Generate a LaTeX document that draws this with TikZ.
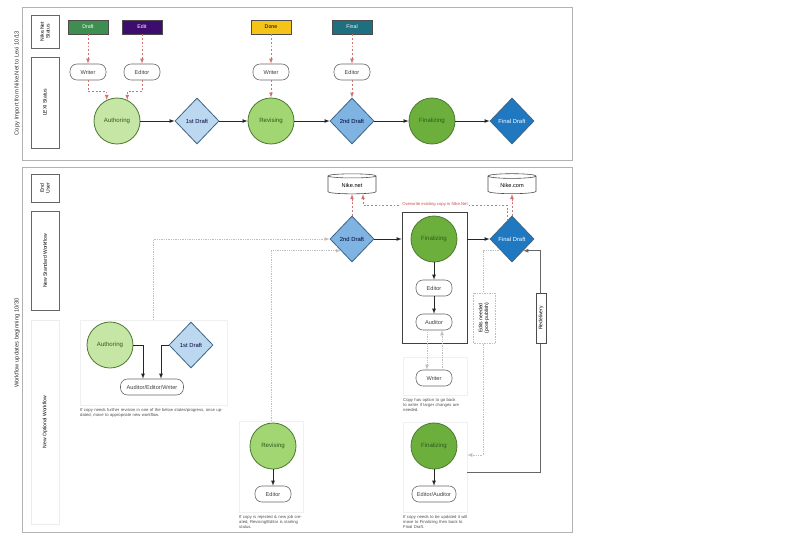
\documentclass[tikz,border=0pt]{standalone}
\usepackage{fontspec}
\setmainfont{Liberation Sans}
\usepackage{tikz}
\usetikzlibrary{arrows,shapes.geometric,calc}

\definecolor{draftgreen}{HTML}{3E8E4F}
\definecolor{editpurple}{HTML}{3D0C6E}
\definecolor{doneyellow}{HTML}{F4C518}
\definecolor{finalteal}{HTML}{1E6F7F}
\definecolor{lightgreen}{HTML}{C6E6A6}
\definecolor{midgreen}{HTML}{A2D672}
\definecolor{darkgreen}{HTML}{6CAF3C}
\definecolor{greenline}{HTML}{4E7A34}
\definecolor{greentext}{HTML}{2D5A1A}
\definecolor{lightblue}{HTML}{BCD8F0}
\definecolor{midblue}{HTML}{7EB3E2}
\definecolor{darkblue}{HTML}{1F78C0}
\definecolor{blueline}{HTML}{3F6585}
\definecolor{syncred}{HTML}{C0504D}

\begin{document}
\begin{tikzpicture}[x=0.03cm, y=-0.03cm,
	lane/.style={draw=gray!60, line width=0.8pt},
	lanelabel/.style={draw=gray!80!black, line width=0.5pt, rotate=90, align=center,
		minimum height=0.84cm, inner sep=1pt, font=\fontsize{4.3}{5}\selectfont},
	title/.style={rotate=90, font=\fontsize{5}{6}\selectfont, text=black!80},
	status/.style={draw=black!70, line width=0.5pt, minimum width=1.2cm, minimum height=0.42cm,
		inner sep=0pt, font=\fontsize{4.5}{5}\selectfont},
	pill/.style={draw=black!60, fill=white, line width=0.5pt, rounded corners=6pt, minimum width=1.08cm,
		minimum height=0.48cm, inner sep=1pt, font=\fontsize{4.8}{5}\selectfont, text=black!75},
	stage/.style={circle, draw=greenline, line width=0.7pt, minimum size=1.38cm, inner sep=0pt,
		text=greentext, font=\fontsize{5.2}{6}\selectfont},
	gate/.style={diamond, draw=blueline, line width=0.7pt, minimum width=1.32cm, minimum height=1.38cm,
		inner sep=0pt, text=black!80!blue, font=\fontsize{5}{6}\selectfont},
	store/.style={cylinder, shape border rotate=90, aspect=0.2, draw=black!70, fill=white, line width=0.5pt,
		minimum width=1.44cm, minimum height=0.6cm, inner sep=0pt, font=\fontsize{4.8}{5}\selectfont},
	faint/.style={draw=gray!12, line width=0.4pt},
	caption/.style={anchor=north west, align=left, inner sep=0pt, font=\fontsize{3.6}{4.4}\selectfont, text=black!70},
	flow/.style={-latex, draw=black!85, line width=0.5pt},
	sync/.style={-latex, draw=syncred!80, line width=0.5pt, dash pattern=on 1.6pt off 1.6pt},
	opt/.style={-latex, draw=gray!50, line width=0.5pt, densely dotted}]

	\useasboundingbox (0,0) rectangle (792,547);

	% copy import panel
	\draw [lane] (22,7) rectangle (572,160);
	\node [title] (importtitle) at (17,83) {Copy Import from Nike.Net to Lexi 10/13};
	\node [lanelabel, minimum width=0.99cm] (netlane) at (45,31.5) {Nike.Net\\Status};
	\node [lanelabel, minimum width=2.73cm] (lexilane) at (45,102.5) {LEXI Status};

	\node [status, fill=draftgreen, text=white] (draft) at (88,27) {Draft};
	\node [status, fill=editpurple, text=white] (edit) at (142,27) {Edit};
	\node [status, fill=doneyellow] (done) at (271,27) {Done};
	\node [status, fill=finalteal, text=white] (final) at (352,27) {Final};

	\node [pill] (writerA) at (88,72) {Writer};
	\node [pill] (editorA) at (142,72) {Editor};
	\node [pill] (writerB) at (271,72) {Writer};
	\node [pill] (editorB) at (352,72) {Editor};

	\node [stage, fill=lightgreen] (authoring) at (117,121) {Authoring};
	\node [gate, fill=lightblue] (first) at (197,121) {1st Draft};
	\node [stage, fill=midgreen] (revising) at (271,121) {Revising};
	\node [gate, fill=midblue] (second) at (352,121) {2nd Draft};
	\node [stage, fill=darkgreen] (finalizing) at (432,121) {Finalizing};
	\node [gate, fill=darkblue, text=white] (finaldraft) at (512,121) {Final Draft};

	\draw [sync] (draft) -- (writerA);
	\draw [sync] (edit) -- (editorA);
	\draw [sync] (done) -- (writerB);
	\draw [sync] (final) -- (editorB);
	\draw [sync] (writerA.south) -- ++(0,11) -| (authoring.116);
	\draw [sync] (editorA.south) -- ++(0,11) -| (authoring.64);
	\draw [sync] (writerB) -- (revising);
	\draw [sync] (editorB) -- (second);

	\draw [flow] (authoring) -- (first);
	\draw [flow] (first) -- (revising);
	\draw [flow] (revising) -- (second);
	\draw [flow] (second) -- (finalizing);
	\draw [flow] (finalizing) -- (finaldraft);

	% workflow updates panel
	\draw [lane] (22,167) rectangle (572,532);
	\node [title] (updatetitle) at (17,343) {Workflow updates beginning 10/30};
	\node [lanelabel, minimum width=0.84cm] (userlane) at (45,188) {End\\User};
	\node [lanelabel, minimum width=2.97cm] (stdlane) at (45,261) {New Standard Workflow};
	\node [lanelabel, draw=gray!15, minimum width=6.12cm] (optlane) at (45,422) {New Optional Workflow};

	\node [store] (nikenet) at (352,185) {Nike.net};
	\node [store] (nikecom) at (512,185) {Nike.com};

	\node [draw=black!75, line width=0.6pt, minimum width=1.95cm, minimum height=3.93cm] (finbox) at (434.5,277.5) {};
	\node [gate, fill=midblue] (secondB) at (352,239) {2nd Draft};
	\node [stage, fill=darkgreen] (finalizingB) at (434,239) {Finalizing};
	\node [pill] (editorC) at (434,288) {Editor};
	\node [pill] (auditorC) at (434,322) {Auditor};
	\node [gate, fill=darkblue, text=white] (finaldraftB) at (512,239) {Final Draft};

	\draw [flow] (secondB.east) -- (secondB.east -| finbox.west);
	\draw [flow] (finbox.east |- finaldraftB) -- (finaldraftB.west);
	\draw [flow] (finalizingB) -- (editorC);
	\draw [flow] (editorC) -- (auditorC);

	\draw [sync] (secondB.north) -- (nikenet.south);
	\draw [sync] (finaldraftB.north) -- (nikecom.south);
	\draw [sync] ($(finaldraftB.north)!0.45!(finaldraftB.north west)$) -- ++(0,-16)
		-| node [pos=0.25, fill=white, inner sep=1pt, text=syncred, font=\fontsize{3.6}{4}\selectfont]
		{Overwrite existing copy in Nike.Net} ([xshift=0.33cm]nikenet.south);

	% optional authoring
	\node [faint, minimum width=4.41cm, minimum height=2.55cm] (authgroup) at (153.5,362.5) {};
	\node [stage, fill=lightgreen] (authoringB) at (110,345) {Authoring};
	\node [gate, fill=lightblue] (firstB) at (191,345) {1st Draft};
	\node [pill, minimum width=1.89cm] (allroles) at (152,387) {Auditor/Editor/Writer};
	\draw [flow] (authoringB.east) -| ([xshift=-0.27cm]allroles.north);
	\draw [flow] (firstB.west) -| ([xshift=0.27cm]allroles.north);
	\node [caption, text width=4.5cm] (authnote) at (80,408)
		{If copy needs further revision in one of the below states/progress, once updated, move to appropriate new workflow.};
	\draw [opt] (authgroup.north) |- (secondB.west);

	% optional revising
	\node [faint, minimum width=1.92cm, minimum height=2.73cm] (revgroup) at (271,466.5) {};
	\node [stage, fill=midgreen] (revisingB) at (273,446) {Revising};
	\node [pill] (editorD) at (273,494) {Editor};
	\draw [flow] (revisingB) -- (editorD);
	\node [caption, text width=1.95cm] (revnote) at (239,515)
		{If copy is rejected \& new job created, Revising/Editor is starting status.};
	\draw [opt] (revgroup.north) |- (secondB.south west);

	% optional writer
	\node [faint, minimum width=1.92cm, minimum height=1.14cm] (writergroup) at (435,376) {};
	\node [pill] (writerC) at (434,378) {Writer};
	\node [caption, text width=1.95cm] (writernote) at (403,398)
		{Copy has option to go back to writer if larger changes are needed.};
	\draw [opt] ([xshift=-0.21cm]auditorC.south) -- ([xshift=-0.21cm]writerC.north);
	\draw [opt, -latex] ([xshift=0.24cm]writerC.north) -- ([xshift=0.24cm]auditorC.south);

	% optional finalizing
	\node [faint, minimum width=1.92cm, minimum height=2.7cm] (fingroup) at (435,467) {};
	\node [stage, fill=darkgreen] (finalizingC) at (434,446) {Finalizing};
	\node [pill, minimum width=1.32cm] (edaud) at (434,494) {Editor/Auditor};
	\draw [flow] (finalizingC) -- (edaud);
	\node [caption, text width=1.95cm] (finnote) at (403,515)
		{If copy needs to be updated it will move to Finalizing then back to Final Draft.};

	% back from final draft
	\coordinate (editturn) at (483,455);
	\coordinate (redelivturn) at (540,472);
	\draw [opt] (finaldraftB.south west) -| (editturn) -- (fingroup.east |- editturn);
	\node [draw=gray!50, densely dotted, fill=white, rotate=90, align=center, minimum width=1.5cm,
		minimum height=0.66cm, inner sep=1pt, font=\fontsize{4.3}{5}\selectfont] (editsnote) at (484,318)
		{Edits needed\\(post-publish)};
	\draw [flow, draw=black!60] (fingroup.east |- redelivturn) -- (redelivturn) |- (finaldraftB.south east);
	\node [draw=black!70, line width=0.5pt, fill=white, rotate=90, minimum width=1.5cm, minimum height=0.3cm,
		inner sep=1pt, font=\fontsize{4.3}{5}\selectfont] (redelivery) at (541,318) {Redelivery};
\end{tikzpicture}
\end{document}
